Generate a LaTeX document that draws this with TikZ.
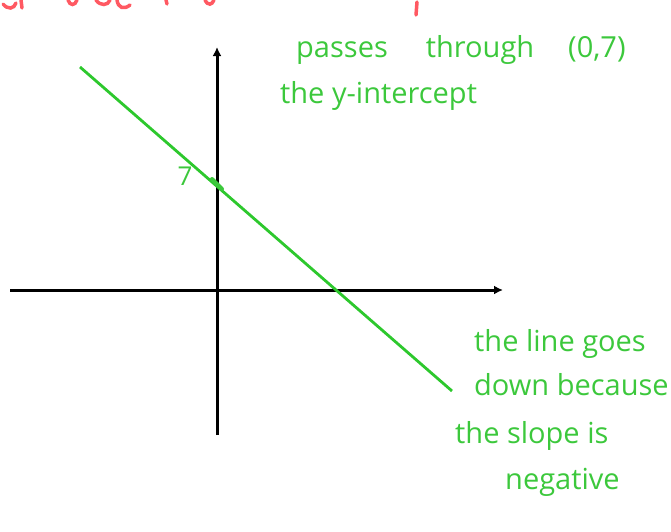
\documentclass[tikz,border=0pt]{standalone}
\usepackage{fontspec}
\setmainfont{Open Sans}
\usetikzlibrary{arrows.meta}
\definecolor{hgreen}{RGB}{60,200,60}
\definecolor{lgreen}{RGB}{45,200,45}
\definecolor{hred}{RGB}{255,60,70}
\begin{document}
\begin{tikzpicture}[x=1pt,y=-1pt,
  axis/.style={line width=3pt,-{Latex[length=9pt,width=9pt]}},
  note/.style={text=hgreen,font=\fontsize{29}{34}\selectfont,inner sep=0pt,anchor=west},
  redstroke/.style={draw=hred,line width=3.5pt,line cap=round,opacity=0.85}]
\useasboundingbox (0,0) rectangle (671,531);
% axes
\coordinate (xl) at (10,290);
\coordinate (xr) at (503,290);
\coordinate (yb) at (217,435);
\coordinate (yt) at (217,47);
\draw[axis] (xl) -- (xr);
\draw[axis] (yb) -- (yt);
% line
\coordinate (la) at (80,67);
\coordinate (lb) at (452,391);
\draw[lgreen,line width=2.8pt] (la) -- (lb);
% tick and label 7
\coordinate (t1) at (212,179);
\coordinate (t2) at (222,189);
\draw[hgreen,line width=4pt,line cap=round] (t1) -- (t2);
\node[note,anchor=center,font=\fontsize{26}{30}\selectfont] (seven) at (185,176) {7};
% notes
\node[note] (n1) at (296,50) {passes\hspace{38pt}through\hspace{34pt}(0,7)};
\node[note] (n2) at (280,96) {the y-intercept};
\node[note] (n3) at (474,344) {the line goes};
\node[note] (n4) at (474,385) {down because};
\node[note] (n5) at (455,436) {the slope is};
\node[note] (n6) at (505,482) {negative};
% red fragments cut off at top
\draw[redstroke] (3,4) .. controls (8,10) and (14,9) .. (16,3);
\draw[redstroke] (21,0) -- (22,8);
\draw[redstroke] (68,0) .. controls (70,6) and (75,6) .. (77,0);
\draw[redstroke] (96,0) .. controls (100,6) and (108,6) .. (110,0);
\draw[redstroke] (117,0) .. controls (118,8) and (124,10) .. (130,5);
\draw[redstroke] (166,0) -- (167,4);
\draw[redstroke] (205,0) .. controls (208,6) and (212,5) .. (214,0);
\draw[redstroke] (417,2) -- (416,15);
\end{tikzpicture}
\end{document}
